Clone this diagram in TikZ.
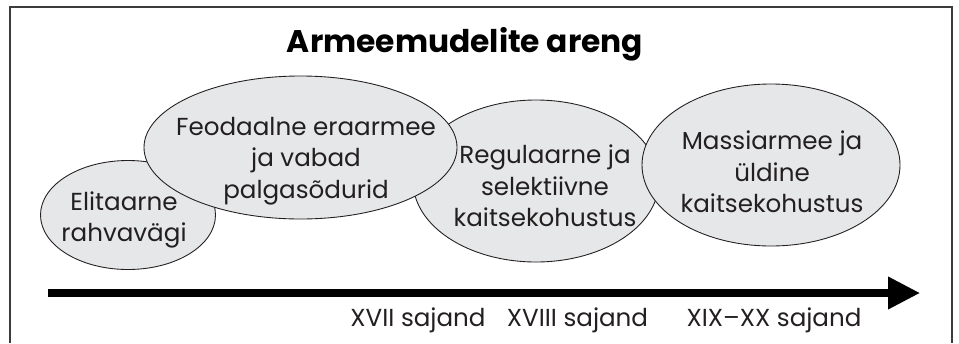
\documentclass[tikz,border=0pt]{standalone}
\usepackage{fontspec}
\setmainfont{Poppins}
\usepackage{xcolor}
\usepackage{tikz}
\usetikzlibrary{shapes.geometric, arrows.meta, positioning}
\definecolor{ovalfill}{HTML}{E6E7E8}
\definecolor{framegray}{HTML}{3C3C3C}
\definecolor{textdark}{HTML}{231F20}

\begin{document}
\begin{tikzpicture}[
			oval/.style={ellipse, draw=textdark, fill=ovalfill, line width=0.5pt, inner sep=0pt},
			ovaltext/.style={align=center, text=textdark, font=\fontsize{14}{18}\selectfont},
			era/.style={anchor=base, text=textdark, font=\fontsize{14}{18}\selectfont}]
				\useasboundingbox (0,0) rectangle (19.18,6.86);
				\draw[framegray, line width=0.7pt] (0.2,0) -- (0.2,6.72) -- (19.04,6.72) -- (19.04,0);
				\node[anchor=base, font=\fontsize{17.8}{22}\selectfont\bfseries] (pealkiri) at (9.3,5.82) {Armeemudelite areng};
				\node[oval, minimum width=3.5cm, minimum height=2.18cm] (elitaarne) at (2.56,2.56) {};
				\node[oval, minimum width=4.92cm, minimum height=3.24cm] (regulaarne) at (10.72,3.24) {};
				\node[oval, minimum width=6.26cm, minimum height=2.86cm] (feodaalne) at (6.01,3.91) {};
				\node[oval, minimum width=5.16cm, minimum height=3.24cm] (massiarmee) at (15.42,3.56) {};
				\node[ovaltext] (elitaarnetekst) at (2.48,2.46) {Elitaarne\\rahvavägi};
				\node[ovaltext] (feodaalnetekst) at (6.12,3.64) {Feodaalne eraarmee\\ja vabad\\palgasõdurid};
				\node[ovaltext] (regulaarnetekst) at (10.9,3.14) {Regulaarne ja\\selektiivne\\kaitsekohustus};
				\node[ovaltext] (massiarmeetekst) at (15.44,3.42) {Massiarmee ja\\üldine\\kaitsekohustus};
				\coordinate (algus) at (0.96,1.0);
				\coordinate (ots) at (18.4,1.0);
				\draw[line width=4pt, -{Triangle[length=0.64cm, width=0.62cm]}] (algus) -- (ots);
				\node[era] (xvii) at (8.36,0.34) {XVII sajand};
				\node[era] (xviii) at (11.55,0.34) {XVIII sajand};
				\node[era] (xixxx) at (15.48,0.34) {XIX–XX sajand};
			\end{tikzpicture}
\end{document}
